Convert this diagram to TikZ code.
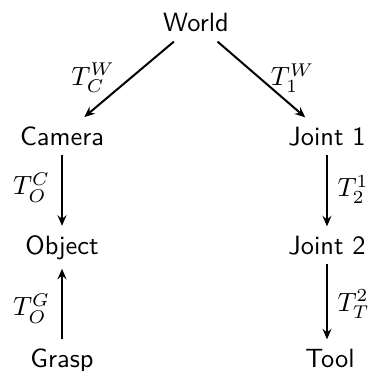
\documentclass[tikz,border=0pt]{standalone}
\usetikzlibrary{arrows.meta}
\begin{document}
\begin{tikzpicture}[x=0.3788pt,y=-0.3788pt,
  lbl/.style={font=\sffamily, anchor=base},
  tr/.style={inner sep=0pt},
  arr/.style={-{Stealth[length=4pt,width=3.4pt,inset=1.4pt]}, line width=0.76pt}]
\useasboundingbox (0,0) rectangle (368,371);
\node[lbl] (world) at (196,32) {World};
\node[lbl] (camera) at (62,145) {Camera};
\node[lbl] (joint1) at (327,145) {Joint 1};
\node[lbl] (object) at (62,254) {Object};
\node[lbl] (joint2) at (327,254) {Joint 2};
\node[lbl] (grasp) at (62,367) {Grasp};
\node[lbl] (tool) at (330,367) {Tool};
\draw[arr] (world) -- (camera);
\draw[arr] (world) -- (joint1);
\draw[arr] (camera) -- (object);
\draw[arr] (joint1) -- (joint2);
\draw[arr] (grasp) -- (object);
\draw[arr] (joint2.south) -- (joint2.south |- tool.north);
\node[tr] (tcw) at (93,78) {$T_C^W$};
\node[tr] (t1w) at (292.5,78) {$T_1^W$};
\node[tr] (toc) at (31.5,187.5) {$T_O^C$};
\node[tr,anchor=west] (t21) at (337,189.5) {$T_2^1$};
\node[tr] (tog) at (31.5,308.5) {$T_O^G$};
\node[tr,anchor=west] (tt2) at (337,304) {$T_T^2$};
\end{tikzpicture}
\end{document}
